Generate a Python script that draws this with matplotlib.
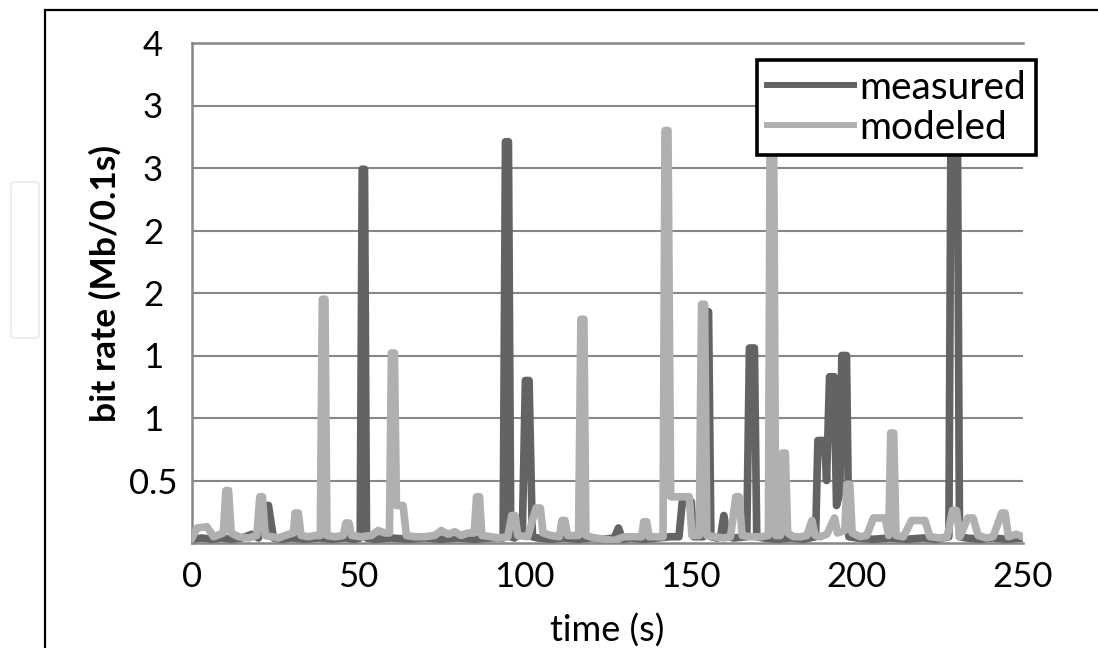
import matplotlib.pyplot as plt
from matplotlib.patches import Rectangle, FancyBboxPatch

plt.rcParams['font.family'] = ['Lato', 'DejaVu Sans']

# measured bit rate (time in s, rate in Mb/0.1s)
measured_t = [0, 3, 6, 9, 12, 15, 18, 20, 22, 23, 24.5, 27, 30, 34, 38, 42, 46, 49,
              50.6, 51.2, 51.9, 52.5, 55, 60, 65, 70, 75, 80, 85, 90,
              93.6, 94.3, 95.2, 95.9, 97, 99.4, 100.3, 101.4, 102.4, 104, 108, 112, 116,
              120, 124, 127, 128.3, 129.5, 132, 136, 140, 144, 146.5, 147.5, 150.2, 150.9,
              153.8, 154.5, 155.4, 156.1, 158, 159, 160, 161, 163,
              166.9, 167.7, 169.2, 169.9, 172, 176, 180, 184,
              187.6, 188.3, 190.3, 190.9, 191.8, 193.2, 193.9, 194.9, 195.5, 196.9, 197.6,
              200, 205, 210, 215, 220, 224, 227.7, 228.4, 230.2, 230.9, 233, 237, 241, 245, 250]
measured_v = [0.03, 0.04, 0.03, 0.04, 0.03, 0.04, 0.07, 0.04, 0.3, 0.3, 0.04, 0.03, 0.04, 0.03, 0.04, 0.03, 0.04, 0.03,
              0.04, 2.99, 2.99, 0.04, 0.03, 0.04, 0.03, 0.04, 0.03, 0.04, 0.03, 0.04,
              0.04, 3.21, 3.21, 0.05, 0.04, 0.1, 1.3, 1.3, 0.05, 0.04, 0.03, 0.04, 0.03,
              0.04, 0.03, 0.04, 0.12, 0.03, 0.04, 0.03, 0.04, 0.05, 0.05, 0.33, 0.33, 0.05,
              0.05, 1.85, 1.85, 0.05, 0.04, 0.05, 0.22, 0.05, 0.04,
              0.05, 1.56, 1.56, 0.05, 0.04, 0.03, 0.04, 0.03,
              0.05, 0.82, 0.82, 0.5, 1.33, 1.33, 0.3, 0.4, 1.5, 1.5, 0.05,
              0.04, 0.03, 0.04, 0.03, 0.04, 0.03, 0.05, 3.7, 3.7, 0.05, 0.04, 0.03, 0.04, 0.03, 0.04]

# modeled bit rate
modeled_t = [0, 1.5, 4.5, 6.5, 9.4, 10.2, 11, 11.8, 14, 17, 19.5, 20.4, 21.2, 22, 24, 26, 28,
             30.5, 31, 32, 32.8, 35, 37, 38.6, 39.2, 40, 40.6, 43, 45.5, 46.3, 47.2, 48,
             51, 54, 56, 58, 59.4, 60, 60.9, 61.5, 63.5, 64.5, 67, 70, 73, 75, 77, 79, 81, 83,
             84.9, 85.6, 86.5, 87.2, 90, 92, 95, 96.2, 97.2, 98, 101, 103.5, 104.8, 105.6,
             108, 110.5, 111.3, 112.2, 113, 116.3, 117, 117.9, 118.5, 121, 124, 127, 130, 133,
             135.3, 135.9, 136.8, 137.5, 140, 141.7, 142.3, 143.2, 144, 149.6, 150.4,
             152.6, 153.3, 154.2, 154.9, 157, 160, 162, 163.6, 164.6, 165.5, 168, 171,
             173.4, 174, 174.9, 175.6, 177, 177.6, 178.5, 179.2, 181, 183, 185, 186.5, 187.5,
             189, 191, 193.3, 194.2, 196.4, 197, 197.9, 198.6, 201, 203, 205, 208.5, 209.6,
             210.2, 211.1, 211.8, 214, 216.5, 220.5, 222, 225, 227.2, 228.8, 230, 231,
             233.4, 235, 236.5, 239, 241, 243.6, 244.6, 245.6, 248, 250]
modeled_v = [0.04, 0.12, 0.13, 0.05, 0.08, 0.42, 0.42, 0.08, 0.05, 0.04, 0.06, 0.37, 0.37, 0.06, 0.05, 0.04, 0.06,
             0.08, 0.24, 0.24, 0.06, 0.05, 0.06, 0.06, 1.95, 1.95, 0.06, 0.05, 0.06, 0.16, 0.16, 0.06,
             0.05, 0.06, 0.1, 0.08, 0.08, 1.52, 1.52, 0.3, 0.3, 0.06, 0.05, 0.05, 0.06, 0.1, 0.07, 0.09, 0.06, 0.08,
             0.08, 0.37, 0.37, 0.06, 0.05, 0.04, 0.05, 0.22, 0.22, 0.06, 0.05, 0.28, 0.28, 0.08,
             0.06, 0.05, 0.18, 0.18, 0.06, 0.06, 1.79, 1.79, 0.06, 0.04, 0.03, 0.02, 0.05, 0.05,
             0.05, 0.17, 0.17, 0.05, 0.05, 0.05, 3.3, 3.3, 0.37, 0.37, 0.06,
             0.06, 1.91, 1.91, 0.06, 0.05, 0.04, 0.05, 0.37, 0.37, 0.06, 0.05, 0.05,
             0.06, 3.7, 3.7, 0.06, 0.06, 0.72, 0.72, 0.08, 0.05, 0.05, 0.06, 0.18, 0.06,
             0.05, 0.07, 0.2, 0.08, 0.1, 0.47, 0.47, 0.08, 0.05, 0.06, 0.2, 0.2, 0.06,
             0.88, 0.88, 0.06, 0.05, 0.18, 0.18, 0.05, 0.04, 0.05, 0.26, 0.26, 0.05,
             0.2, 0.2, 0.06, 0.04, 0.05, 0.24, 0.24, 0.05, 0.07, 0.05]

x_ticks = [0, 50, 100, 150, 200, 250]
y_ticks = [0.5, 1, 1.5, 2, 2.5, 3, 3.5, 4]
y_ticklabels = ['0.5', '1', '1', '2', '2', '3', '3', '4']

fig = plt.figure(figsize=(10.98, 6.48), dpi=100)
ax = fig.add_axes([192 / 1098, 105 / 648, 831 / 1098, 500 / 648])

grid_c = '#878787'
ax.plot(measured_t, measured_v, color='#636363', lw=5.5, label='measured', solid_joinstyle='round', zorder=3)
ax.plot(modeled_t, modeled_v, color='#b0b0b0', lw=5.5, label='modeled', solid_joinstyle='round', zorder=4)

ax.set_xlim(0, 250)
ax.set_ylim(0, 4)
ax.set_xticks(x_ticks)
ax.set_yticks(y_ticks)
ax.set_yticklabels(y_ticklabels)
ax.yaxis.grid(True, color=grid_c, lw=1.5)
ax.set_axisbelow(True)
ax.tick_params(length=0, labelsize=25)
ax.tick_params(axis='y', pad=28)
ax.tick_params(axis='x', pad=13)
for lab in ax.get_yticklabels():
    lab.set_horizontalalignment('center')
for side in ['left', 'bottom', 'top']:
    ax.spines[side].set_color(grid_c)
    ax.spines[side].set_linewidth(1.8)
ax.spines['right'].set_visible(False)

ax.set_xlabel('time (s)', fontsize=26)
ax.xaxis.set_label_coords(0.5, -0.176)
ax.xaxis.label.set_va('center')
ax.set_ylabel('bit rate (Mb/0.1s)', fontsize=25.5, fontweight='bold')
ax.yaxis.set_label_coords(-0.1047, 0.52)
ax.yaxis.label.set_va('center')

leg = ax.legend(loc='upper right', bbox_to_anchor=(1036 / 1098, 1 - 60 / 648),
                bbox_transform=fig.transFigure, borderaxespad=0, fontsize=28,
                fancybox=False, framealpha=1, handlelength=2.25, handletextpad=0.13,
                labelspacing=0.1, borderpad=0.25)
leg.get_frame().set_edgecolor('black')
leg.get_frame().set_linewidth(2.6)
for h in leg.get_lines():
    h.set_linewidth(4.3)
leg.set_zorder(10)

# outer chart frame and the faint box at the left edge
fig.add_artist(Rectangle((45 / 1098, -0.1), 1.2, 1.1 - 10 / 648, transform=fig.transFigure,
                         fill=False, edgecolor='black', lw=1.6))
fig.add_artist(FancyBboxPatch((11 / 1098, 1 - 338 / 648), 28 / 1098, 156 / 648,
                              boxstyle='round,pad=0,rounding_size=0.005', transform=fig.transFigure,
                              fill=False, edgecolor='#eeeeee', lw=1.6))

fig.savefig('out.png', dpi=100)
